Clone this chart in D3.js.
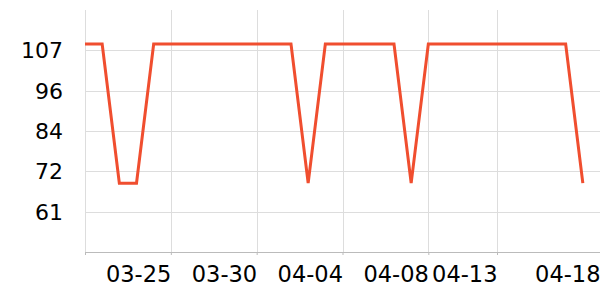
<!DOCTYPE html>
<html>
<head>
<meta charset="utf-8">
<script src="https://cdn.jsdelivr.net/npm/d3@7"></script>
<style>
  body { margin: 0; background: #fff; }
  text { font-family: "DejaVu Sans", sans-serif; }
</style>
</head>
<body>
<div class="chart"></div>
<script>
// daily values, 03-20 .. 04-18
var dates = ["03-20","03-21","03-22","03-23","03-24","03-25","03-26","03-27","03-28","03-29",
    "03-30","03-31","04-01","04-02","04-03","04-04","04-05","04-06","04-07","04-08",
    "04-09","04-10","04-11","04-12","04-13","04-14","04-15","04-16","04-17","04-18"];
var values = [109,109,69,69,109,109,109,109,109,109,
    109,109,109,69,109,109,109,109,109,69,
    109,109,109,109,109,109,109,109,109,69];
var xTickLabels = ["03-25","03-30","04-04","04-08","04-13","04-18"];
var xTickIndex = [5, 10, 15, 20, 24, 30];
var yTicks = [60.8, 72.4, 84, 95.6, 107.2];
var yDomain = [49.2, 118.8];

var margin = {top: 10, right: 0, bottom: 48, left: 85};
var width = 600 - margin.left - margin.right;
var height = 300 - margin.top - margin.bottom;

var svg = d3.select(".chart")
    .append("svg")
    .attr("width", 600)
    .attr("height", 300)
    .append("g")
    .attr("transform", "translate(" + margin.left + "," + margin.top + ")");

var x = d3.scaleLinear()
    .domain([0, dates.length])
    .range([0, width]);

var y = d3.scaleLinear()
    .domain(yDomain)
    .range([height, 0]);

// horizontal grid
svg.selectAll(".hgrid")
    .data(yTicks)
    .enter()
    .append("line")
    .attr("class", "hgrid")
    .attr("x1", 0)
    .attr("x2", width)
    .attr("y1", function (d) { return Math.round(y(d)) + 0.5; })
    .attr("y2", function (d) { return Math.round(y(d)) + 0.5; })
    .attr("stroke", "#dddddd");

// vertical grid
svg.selectAll(".vgrid")
    .data([0].concat(xTickIndex))
    .enter()
    .append("line")
    .attr("class", "vgrid")
    .attr("x1", function (d) { return Math.round(x(d)) + 0.5; })
    .attr("x2", function (d) { return Math.round(x(d)) + 0.5; })
    .attr("y1", 0)
    .attr("y2", height)
    .attr("stroke", "#dddddd");

// x axis
var xAxis = d3.axisBottom(x)
    .tickValues([0].concat(xTickIndex))
    .tickSize(3)
    .tickFormat(function (d) { var i = xTickIndex.indexOf(d); return i < 0 ? "" : xTickLabels[i]; });

var gx = svg.append("g")
    .attr("transform", "translate(0," + height + ")")
    .call(xAxis);

gx.select(".domain").attr("stroke", "#bbbbbb").attr("d", "M0.5,0.5H" + width);
gx.selectAll("line").attr("stroke", "#bbbbbb");
gx.selectAll("text")
    .attr("y", 14)
    .attr("dy", "0.71em")
    .style("text-anchor", "end")
    .style("font-size", "22.5px")
    .style("fill", "#000");

// y labels
svg.selectAll(".ylabel")
    .data(yTicks)
    .enter()
    .append("text")
    .attr("class", "ylabel")
    .attr("x", -22)
    .attr("y", function (d) { return y(d); })
    .attr("dy", "0.36em")
    .style("text-anchor", "end")
    .style("font-size", "22px")
    .style("fill", "#000")
    .text(function (d) { return Math.round(d); });

// the series
var line = d3.line()
    .x(function (d, i) { return x(i); })
    .y(function (d) { return y(d); });

svg.append("path")
    .datum(values)
    .attr("fill", "none")
    .attr("stroke", "#f04e2f")
    .attr("stroke-width", 3)
    .attr("stroke-linejoin", "miter")
    .attr("d", line);
</script>
</body>
</html>
